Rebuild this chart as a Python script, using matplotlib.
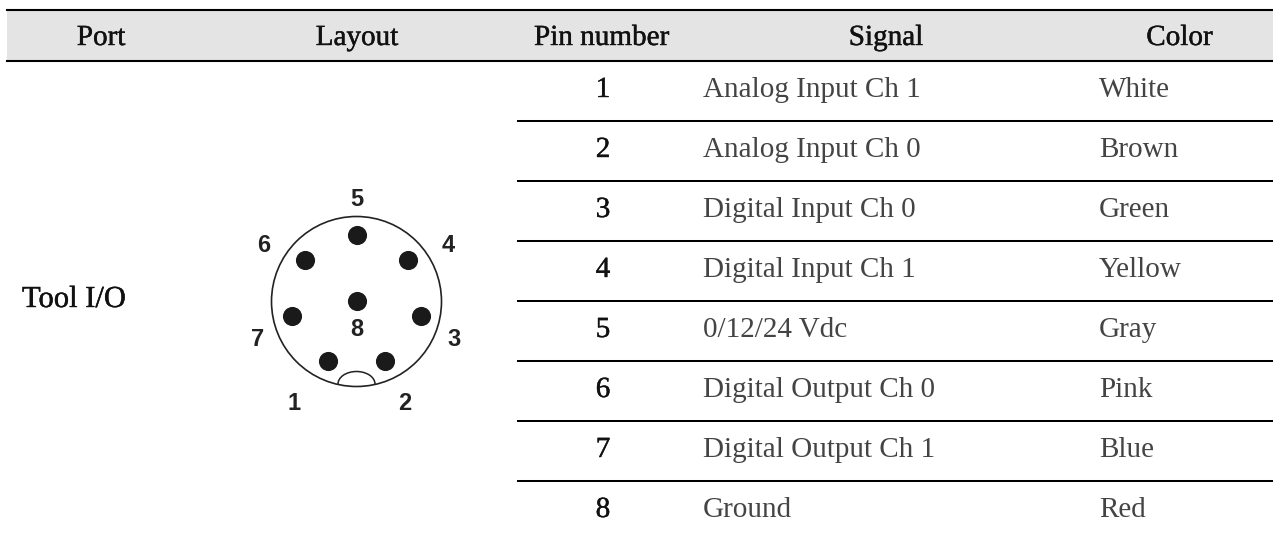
import matplotlib.pyplot as plt
import matplotlib.patheffects as pe
from matplotlib.patches import Circle, Arc, Rectangle

columns = ['Port', 'Layout', 'Pin number', 'Signal', 'Color']
pin_numbers = ['1', '2', '3', '4', '5', '6', '7', '8']
signals = ['Analog Input Ch 1', 'Analog Input Ch 0', 'Digital Input Ch 0', 'Digital Input Ch 1',
           '0/12/24 Vdc', 'Digital Output Ch 0', 'Digital Output Ch 1', 'Ground']
wire_colors = ['White', 'Brown', 'Green', 'Yellow', 'Gray', 'Pink', 'Blue', 'Red']
port_name = 'Tool I/O'

# connector drawing in pixels
pin_x = [328, 385, 421, 408, 356.5, 305, 292, 356.5]
pin_y = [361, 361, 316, 260, 235, 260, 316, 301]
label_x = [294, 405, 454, 448, 357, 264, 258, 357]
label_y = [403, 403, 340, 246, 199, 246, 340, 329]

plt.rcParams['font.family'] = ['Liberation Serif', 'DejaVu Serif']

fig = plt.figure(figsize=(12.73, 5.38), dpi=100)
ax = fig.add_axes([0, 0, 1, 1])
ax.set_xlim(0, 1273)
ax.set_ylim(538, 0)
ax.axis('off')

medium = [pe.withStroke(linewidth=0.3, foreground='#111111')]

# header band
ax.add_patch(Rectangle((7, 10), 1266, 51, facecolor='#e4e4e4', edgecolor='none'))
ax.plot([7, 1273], [10, 10], color='black', lw=1.5)
ax.plot([7, 1273], [61, 61], color='black', lw=1.5)

header_x = [101, 357, 601.5, 886, 1179.5]
for x, name in zip(header_x, columns):
    ax.text(x, 45, name, ha='center', va='baseline', fontsize=21, color='#111111', path_effects=medium)

row_y = [88, 148, 208, 268, 328, 388, 448, 508]
for y in row_y[:-1]:
    ax.plot([518, 1273], [y + 33, y + 33], color='black', lw=1.45)

for y, num, sig, col in zip(row_y, pin_numbers, signals, wire_colors):
    ax.text(603, y + 9, num, ha='center', va='baseline', fontsize=21, color='#111111', path_effects=medium)
    ax.text(703, y + 9, sig, ha='left', va='baseline', fontsize=21, color='#444444')
    ax.text(1099, y + 9, col, ha='left', va='baseline', fontsize=21, color='#444444')

ax.text(22, 307, port_name, ha='left', va='baseline', fontsize=22, color='#111111', path_effects=medium)

# connector
ax.add_patch(Circle((356.5, 301.5), 85, fill=False, edgecolor='#222222', lw=1.2))
ax.add_patch(Arc((356.5, 384), 37, 25, theta1=180, theta2=360, edgecolor='#222222', lw=1.1))
ax.scatter(pin_x, pin_y, s=190, color='#1a1a1a', linewidths=0, zorder=3)
for x, y, num in zip(label_x, label_y, pin_numbers):
    ax.text(x, y, num, ha='center', va='center', fontsize=17, color='#222222',
            family=['Liberation Sans', 'DejaVu Sans'], fontweight='bold')

fig.savefig('out.png', dpi=100)
